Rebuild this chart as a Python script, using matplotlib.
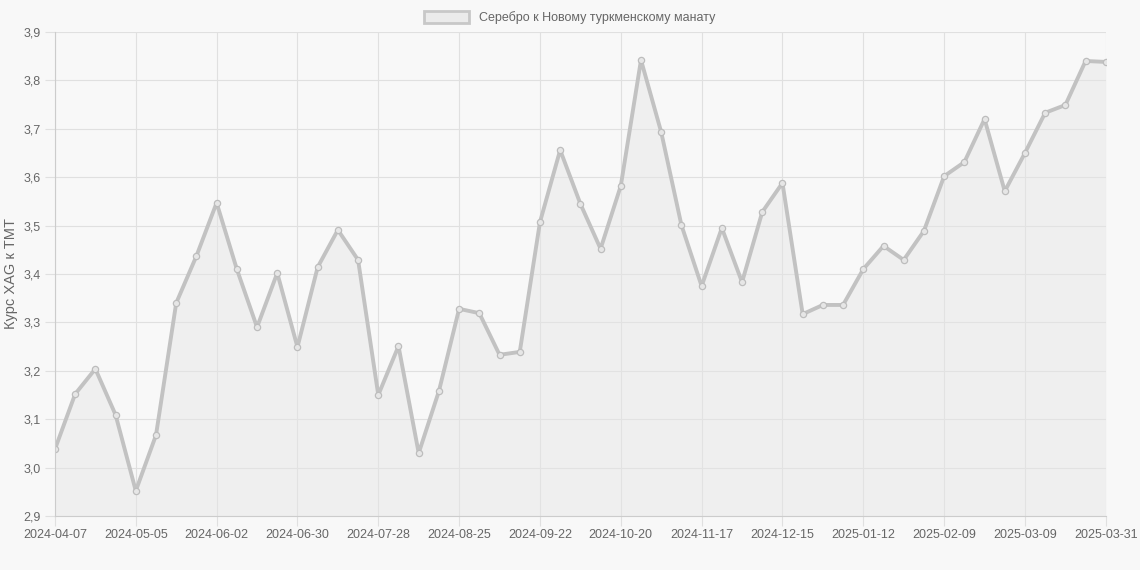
import datetime as dt
import matplotlib
import matplotlib.pyplot as plt
from matplotlib.patches import Patch
from matplotlib.ticker import FuncFormatter

matplotlib.rc('font', family='Liberation Sans')

# weekly rate of silver (XAG) to the New Turkmen manat
start = dt.date(2024, 4, 7)
dates = [(start + dt.timedelta(weeks=i)).isoformat() for i in range(52)] + ['2025-03-31']

rate = [3.038, 3.152, 3.204, 3.109, 2.952, 3.067, 3.340, 3.437, 3.547, 3.410,
        3.290, 3.402, 3.249, 3.414, 3.491, 3.429, 3.150, 3.251, 3.030, 3.158,
        3.328, 3.319, 3.233, 3.239, 3.507, 3.656, 3.545, 3.452, 3.582, 3.842,
        3.693, 3.501, 3.375, 3.495, 3.383, 3.528, 3.588, 3.317, 3.336, 3.336,
        3.410, 3.458, 3.429, 3.489, 3.602, 3.631, 3.720, 3.571, 3.650, 3.733,
        3.749, 3.840, 3.838]

label = 'Серебро к Новому туркменскому манату'
ylabel = 'Курс XAG к TMT'

bg = '#f8f8f8'
line_col = '#c2c2c2'
grid_col = '#e0e0e0'
text_col = '#666666'

fig = plt.figure(figsize=(11.4, 5.7), dpi=100, facecolor=bg)
ax = fig.add_axes([0.0482, 0.0947, 0.9218, 0.8493], facecolor=bg)

x = list(range(len(rate)))
ax.fill_between(x, rate, 2.9, color='#e6e6e6', alpha=0.45, linewidth=0)
ax.plot(x, rate, color=line_col, linewidth=2.8, marker='o', markersize=4.5,
        markerfacecolor='#e6e6e6', markeredgecolor='#bdbdbd', markeredgewidth=0.9)

ax.set_xlim(0, len(rate) - 1)
ax.set_ylim(2.9, 3.9)
ticks = list(range(0, len(rate), 4))
ax.set_xticks(ticks)
ax.set_xticklabels([dates[i] for i in ticks])
ax.set_yticks([2.9 + 0.1 * k for k in range(11)])
ax.yaxis.set_major_formatter(FuncFormatter(lambda v, p: f'{v:.1f}'.replace('.', ',')))

ax.grid(True, color=grid_col, linewidth=0.8)
ax.set_axisbelow(True)
for side in ['top', 'right']:
    ax.spines[side].set_visible(False)
for side in ['left', 'bottom']:
    ax.spines[side].set_color('#cccccc')
ax.tick_params(axis='both', colors=grid_col, labelcolor=text_col, labelsize=9,
               length=7, width=0.8)
ax.tick_params(axis='x', pad=2)
ax.tick_params(axis='y', pad=3)

ax.set_ylabel(ylabel, fontsize=10.5, color=text_col, labelpad=4)

handle = Patch(facecolor='#ebebeb', edgecolor='#c8c8c8', linewidth=2)
fig.legend([handle], [label], loc='upper center', bbox_to_anchor=(0.5, 1.0),
           frameon=False, fontsize=9, handlelength=3.6, handleheight=1.1,
           labelcolor=text_col)

fig.savefig('out.png', dpi=100, facecolor=bg)
